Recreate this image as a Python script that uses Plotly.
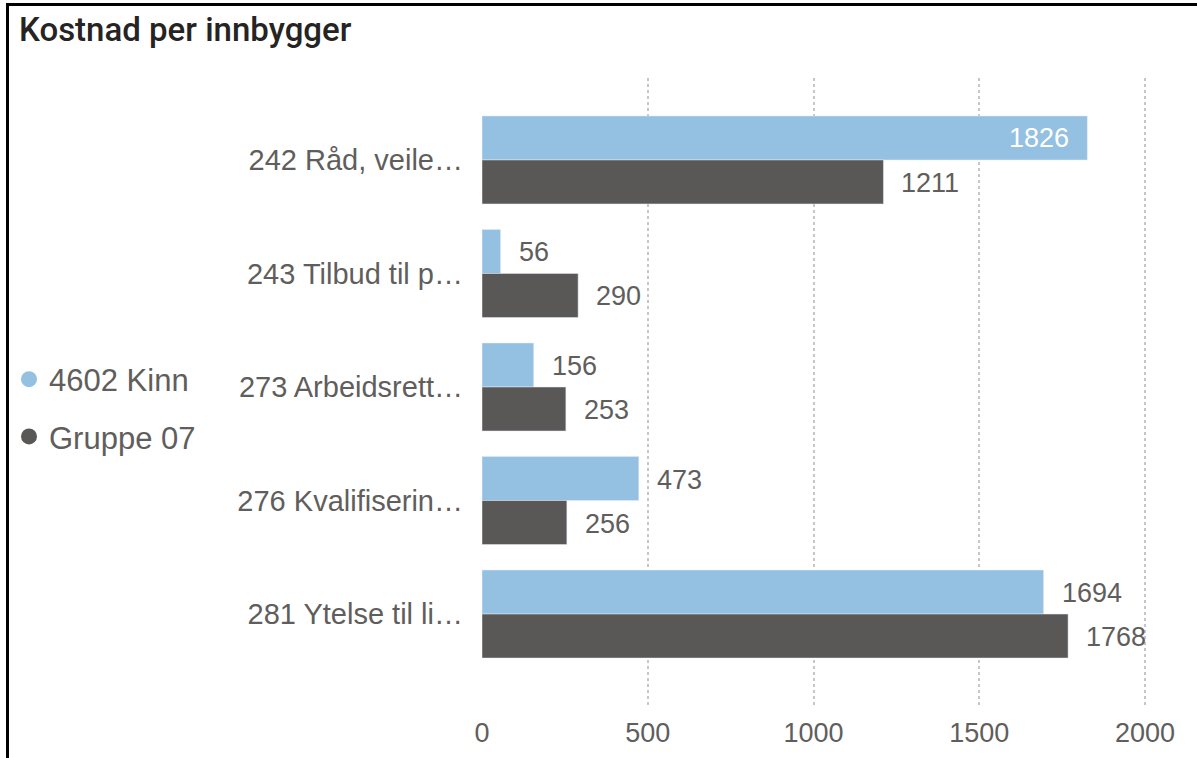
import plotly.graph_objects as go

categories = ["242 Råd, veile…", "243 Tilbud til p…", "273 Arbeidsrett…",
              "276 Kvalifiserin…", "281 Ytelse til li…"]
kinn = [1826, 56, 156, 473, 1694]
gruppe = [1211, 290, 253, 256, 1768]
series_names = ["4602 Kinn", "Gruppe 07"]
x_ticks = [0, 500, 1000, 1500, 2000]
kinn_label_pos = ["inside", "outside", "outside", "outside", "outside"]

C_LIGHT = "#94C0E1"
C_DARK = "#595857"
TXT = "#605E5C"
FONT = "Liberation Sans, Arial, sans-serif"

W, H = 1197, 758
ML, MR, MT, MB = 482, 17, 78, 52
PW, PH = W - ML - MR, H - MT - MB


def px(xp):
    return (xp - ML) / PW


def py(yp):
    return (H - MB - yp) / PH


fig = go.Figure()
fig.add_trace(go.Bar(y=categories, x=kinn, orientation="h", marker_color=C_LIGHT,
                     name=series_names[0], showlegend=False, hoverinfo="x+y"))
fig.add_trace(go.Bar(y=categories, x=gruppe, orientation="h", marker_color=C_DARK,
                     name=series_names[1], showlegend=False, hoverinfo="x+y"))

# legend entries with circle symbols
for nm, col in zip(series_names, [C_LIGHT, C_DARK]):
    fig.add_trace(go.Scatter(x=[None], y=[None], mode="markers", name=nm, legendgroup=nm,
                             marker=dict(symbol="circle", size=20, color=col)))

ann = []
for cat, v, pos in zip(categories, kinn, kinn_label_pos):
    if pos == "inside":
        ann.append(dict(x=v, y=cat, xref="x", yref="y", text=str(v), showarrow=False,
                        xanchor="right", xshift=-16, yshift=22,
                        font=dict(family=FONT, size=27, color="white")))
    else:
        ann.append(dict(x=v, y=cat, xref="x", yref="y", text=str(v), showarrow=False,
                        xanchor="left", xshift=16, yshift=21,
                        font=dict(family=FONT, size=27, color=TXT)))
for cat, v in zip(categories, gruppe):
    ann.append(dict(x=v, y=cat, xref="x", yref="y", text=str(v), showarrow=False,
                    xanchor="left", xshift=16, yshift=-23,
                    font=dict(family=FONT, size=27, color=TXT)))

fig.update_layout(
    width=W, height=H,
    margin=dict(l=ML, r=MR, t=MT, b=MB, autoexpand=False),
    paper_bgcolor="white", plot_bgcolor="white",
    barmode="group", bargap=0.225, bargroupgap=0,
    annotations=ann,
    title=dict(text="Kostnad per innbygger", xref="container", yref="container",
               x=19 / W, xanchor="left", y=1 - 29 / H, yanchor="middle",
               font=dict(family="Roboto, sans-serif", size=33, color="#252423", weight=500)),
    legend=dict(x=px(9), xanchor="left", y=py(408), yanchor="middle",
                font=dict(family=FONT, size=31, color=TXT),
                tracegroupgap=14, itemwidth=30, bgcolor="rgba(0,0,0,0)"),
    xaxis=dict(range=[0, PW / (663 / 2000)], tickvals=x_ticks,
               showgrid=True, gridcolor="#C8C6C4", griddash="dot", gridwidth=1.5,
               zeroline=False, showline=False, ticks="", automargin=False,
               tickfont=dict(family=FONT, size=27, color=TXT), ticklabelstandoff=8),
    yaxis=dict(type="category", categoryorder="array", categoryarray=categories,
               range=[4.81, -0.722], showgrid=False, zeroline=False, showline=False,
               ticks="", tickfont=dict(family=FONT, size=29, color=TXT), automargin=False,
               ticklabelstandoff=18),
    shapes=[dict(type="rect", xref="paper", yref="paper",
                 x0=px(7.5), x1=px(1202), y0=py(763), y1=py(4.5),
                 line=dict(color="black", width=3), fillcolor="rgba(0,0,0,0)", layer="above")],
)

fig.write_html("out.html", config={"displayModeBar": False},
               post_script="document.body.style.margin='0';")
